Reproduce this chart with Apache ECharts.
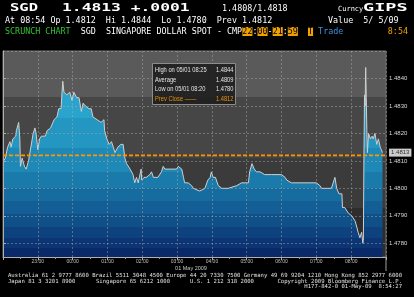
<!DOCTYPE html>
<html><head><meta charset="utf-8">
<script src="https://cdn.jsdelivr.net/npm/echarts@6/dist/echarts.min.js"></script>
<style>html,body{margin:0;padding:0;background:#000;}#c{width:414px;height:297px;}</style>
</head><body><div id="c"></div>
<script>
// ---- data ----
const times = ['22:01','22:04','22:08','22:12','22:14','22:17','22:22','22:23','22:27','22:29','22:30','22:33','22:37','22:40','22:44','22:48','22:52','22:55','22:57','22:59',
'23:00','23:03','23:06','23:13','23:16','23:22','23:28','23:33','23:36','23:40','23:43','23:45','23:50','23:55','23:59',
'00:02','00:07','00:11','00:15','00:18','00:22','00:28','00:32','00:35','00:42','00:49','00:54','00:55','00:59',
'01:03','01:07','01:10','01:13','01:16','01:18','01:23','01:27','01:30','01:33','01:39','01:44','01:47','01:50','01:53','01:56','01:58','01:59',
'02:03','02:07','02:13','02:16','02:19','02:27','02:33','02:36','02:39','02:59',
'03:02','03:08','03:11','03:13','03:19','03:25','03:28','03:39','03:48','03:53','03:57','03:59',
'04:02','04:06','04:11','04:17','04:28','04:43','04:51',
'05:03','05:05','05:09','05:13','05:17','05:23','05:31','05:43','05:52',
'06:00','06:06','06:09','06:17','06:32','06:49',
'07:00','07:06','07:09','07:15','07:20','07:26','07:32','07:35','07:39','07:44','07:45','07:49','07:55',
'08:01','08:07','08:12','08:15','08:18','08:20','08:21','08:22','08:23','08:24','08:25','08:26','08:27','08:28','08:30','08:33','08:36','08:38','08:41','08:44','08:47','08:50','08:52','08:54'];
const prices = [1.4810,1.4811,1.4815,1.4817,1.4815,1.4818,1.4819,1.4821,1.4824,1.4818,1.4808,1.4811,1.4808,1.4807,1.4810,1.4815,1.4820,1.4822,1.4820,1.4816,
1.4814,1.4818,1.4819,1.4819,1.4821,1.4822,1.4825,1.4826,1.4829,1.4829,1.4839,1.4835,1.4834,1.4835,1.4832,
1.4835,1.4833,1.4833,1.4828,1.4831,1.4830,1.4829,1.4829,1.4826,1.4825,1.4824,1.4825,1.4821,1.4818,
1.4816,1.4817,1.4815,1.4813,1.4813,1.4815,1.4816,1.4816,1.4811,1.4809,1.4807,1.4805,1.4802,1.4804,1.4802,1.4802,1.4807,1.4803,
1.4804,1.4804,1.4805,1.4806,1.4804,1.4804,1.4806,1.4808,1.4807,1.4807,
1.4808,1.4807,1.4804,1.4802,1.4802,1.4801,1.4800,1.4799,1.4800,1.4803,1.4804,1.4806,
1.4804,1.4804,1.4801,1.4800,1.4800,1.4801,1.4802,
1.4802,1.4806,1.4809,1.4807,1.4806,1.4806,1.4805,1.4805,1.4805,
1.4805,1.4804,1.4803,1.4802,1.4802,1.4802,
1.4802,1.4801,1.4800,1.4800,1.4800,1.4800,1.4804,1.4800,1.4798,1.4798,1.4793,1.4793,1.4791,
1.4790,1.4788,1.4784,1.4782,1.4784,1.4780,1.4781,1.4811,1.4834,1.4830,1.4844,1.4833,1.4821,1.4813,1.4820,1.4818,1.4819,1.4818,1.4820,1.4816,1.4818,1.4815,1.4814,1.4813];
const hourLabels = ['22:00','23:00','00:00','01:00','02:00','03:00','04:00','05:00','06:00','07:00','08:00','09:00'];
const statLabels = ['High on 05/01 08:25','Average','Low on 05/01 08:20','Prev Close \u2014\u2014'];
const statValues = ['1.4844','1.4809','1.4780','1.4812'];
const prevClose = 1.4812;
const lastPrice = 1.4813;
const dateLabel = '01 May 2009';

// ---- helpers ----
function toMin(s){const [h,m]=s.split(':').map(Number);return (h>=22?(h-22):(h+2))*60+m;}
const seriesData = times.map((t,i)=>[toMin(t),prices[i]]);
const xMin = 0, xMax = 660;
const MONO = 'DejaVu Sans Mono';
const SANS = "'Liberation Sans',sans-serif";
const cw = 5.05;
function txt(x,y,text,o){o=o||{};return {type:'text',x:x,y:y,scaleX:o.sx||1,z:100,style:{text:text,fill:o.fill||'#fff',font:o.font||('8.4px '+MONO),textAlign:o.align||'left',textVerticalAlign:'middle',verticalAlign:'middle',backgroundColor:o.bg,padding:o.pad}};}
function box(idx,y,text){return txt(5+idx*cw,y,text,{fill:'#000',bg:'#f2a000',pad:[1,0,0,0]});}
function stepped(bands,y0,y1){const st=[];const H=y1-y0;for(let i=0;i<bands.length;i++){const a=(bands[i][0]-y0)/H;const b=(i+1<bands.length?(bands[i+1][0]-y0)/H:1);st.push({offset:Math.max(0,a),color:bands[i][1]});st.push({offset:Math.min(1,b)-0.0001,color:bands[i][1]});}return st;}

const gTop=51,gBot=257;
const areaBands=[[51,'#2ba4cd'],[118,'#2496c2'],[148,'#1e88b6'],[172,'#1a7aaa'],[188,'#166c9f'],[201,'#135e94'],[214,'#105089'],[227,'#0e427e'],[238,'#0b3573'],[248,'#092968']];
const bgBands=[[51,'#5a5a5a'],[97,'#464646'],[158,'#3b3b3b'],[208,'#2d2d2d']];

const chart = echarts.init(document.getElementById('c'),null,{renderer:'canvas'});
chart.setOption({
  backgroundColor:'#000',
  animation:false,
  grid:{left:3,right:28,top:gTop,bottom:297-gBot,show:true,borderColor:'#707070',borderWidth:1,
    backgroundColor:{type:'linear',x:0,y:0,x2:0,y2:1,colorStops:stepped(bgBands,gTop,gBot)}},
  xAxis:{type:'value',min:xMin,max:xMax,interval:60,z:3,
    axisLine:{show:true,lineStyle:{color:'#b0b0b0',width:1}},
    axisTick:{show:true,length:3,lineStyle:{color:'#b0b0b0'}},
    minorTick:{show:true,splitNumber:2,length:2,lineStyle:{color:'#999'}},
    splitLine:{show:true,lineStyle:{color:'rgba(175,175,175,0.45)',type:[2,2],width:1}},
    axisLabel:{showMinLabel:false,showMaxLabel:false,fontSize:5,color:'#c0c0c0',margin:2,fontFamily:SANS,
      formatter:v=>hourLabels[Math.round(v/60)]||''}},
  yAxis:{type:'value',position:'right',min:1.4775,max:1.4850,splitNumber:8,scale:true,z:3,
    axisLine:{show:true,lineStyle:{color:'#b0b0b0',width:1}},
    axisTick:{show:true,length:3,inside:false,lineStyle:{color:'#b0b0b0'}},
    splitLine:{show:true,lineStyle:{color:'rgba(175,175,175,0.45)',type:[2,2],width:1}},
    axisLabel:{showMinLabel:false,showMaxLabel:false,fontSize:6,color:'#d8d8d8',margin:3,fontFamily:SANS,
      formatter:v=>v.toFixed(4)}},
  series:[
    {type:'line',data:seriesData,symbol:'none',silent:true,z:2,
      lineStyle:{color:'#cfcfcf',width:1},
      areaStyle:{origin:'start',opacity:1,color:{type:'linear',x:0,y:gTop,x2:0,y2:gBot,global:true,colorStops:stepped(areaBands,gTop,gBot)}}},
    {type:'line',data:[[xMin,prevClose],[xMax,prevClose]],symbol:'none',z:4,
      lineStyle:{color:'#ff9600',type:[4,2],width:1.6}},
    {type:'scatter',data:[[xMax,lastPrice]],symbolSize:0.1,silent:true,clip:false,z:5,
      label:{show:true,position:'right',distance:3,formatter:()=>lastPrice.toFixed(4),
        backgroundColor:'#ffffff',color:'#000',fontSize:6,fontFamily:SANS,padding:[1,2,1,2]}}
  ],
  graphic:[
    // header line 1
    txt(10,8.5,'SGD',{font:'bold 10px '+MONO,sx:1.55}),
    txt(62,8.5,'1.4813 +.0001',{font:'bold 10px '+MONO,sx:1.63}),
    txt(222,8.5,'1.4808/1.4818'),
    txt(338,9,'Curncy',{font:'7px '+MONO}),
    txt(363,8.5,'GIPS',{font:'bold 10px '+MONO,sx:1.85}),
    // header line 2
    txt(5,20.5,'At 08:54 Op 1.4812  Hi 1.4844  Lo 1.4780  Prev 1.4812'),
    txt(328,20.5,'Value  5/ 5/09'),
    // header line 3
    txt(5,31.5,'SCRUNCH CHART',{fill:'#33c233'}),
    txt(5+15*cw,31.5,'SGD  SINGAPORE DOLLAR SPOT - CMP'),
    box(47,31.5,'22'), txt(5+49*cw,31.5,':'), box(50,31.5,'00'), txt(5+52*cw,31.5,'-'),
    box(53,31.5,'21'), txt(5+55*cw,31.5,':'), box(56,31.5,'59'),
    box(60,31.5,'T'),
    txt(5+62*cw,31.5,'Trade',{fill:'#3b8fd8'}),
    txt(408,31.5,'8:54',{fill:'#f2a000',align:'right'}),
    // legend box
    {type:'rect',z:99,shape:{x:152.5,y:63.5,width:83,height:41},style:{fill:'rgba(32,32,32,0.92)',stroke:'#8c8c8c',lineWidth:1}},
    ...statLabels.map((s,i)=>txt(155,70+i*9.6,s,{font:'7px '+SANS,sx:0.82,fill:i===3?'#e8900a':'#e4e4e4'})),
    ...statValues.map((s,i)=>txt(233.5,70+i*9.6,s,{font:'7px '+SANS,sx:0.82,fill:i===3?'#e8900a':'#e4e4e4',align:'right'})),
    // axis frame extension and date label
    {type:'line',z:100,shape:{x1:386,y1:257,x2:386,y2:271},style:{stroke:'#a0a0a0',lineWidth:1}},
    txt(191,268,dateLabel,{font:'5.5px '+SANS,fill:'#c8c8c8',align:'center'}),
    // footer
    txt(8,275.5,'Australia 61 2 9777 8600 Brazil 5511 3048 4500 Europe 44 20 7330 7500 Germany 49 69 9204 1210 Hong Kong 852 2977 6000',{font:'5.6px '+MONO,fill:'#e0e0e0'}),
    txt(8,281.5,'Japan 81 3 3201 8900',{font:'5.6px '+MONO,fill:'#e0e0e0'}),
    txt(96,281.5,'Singapore 65 6212 1000',{font:'5.6px '+MONO,fill:'#e0e0e0'}),
    txt(190,281.5,'U.S. 1 212 318 2000',{font:'5.6px '+MONO,fill:'#e0e0e0'}),
    txt(402,281.5,'Copyright 2009 Bloomberg Finance L.P.',{font:'5.6px '+MONO,fill:'#e0e0e0',align:'right'}),
    txt(402,286.5,'H177-842-0 01-May-09  8:54:27',{font:'5.6px '+MONO,fill:'#e0e0e0',align:'right'})
  ]
});
</script></body></html>
